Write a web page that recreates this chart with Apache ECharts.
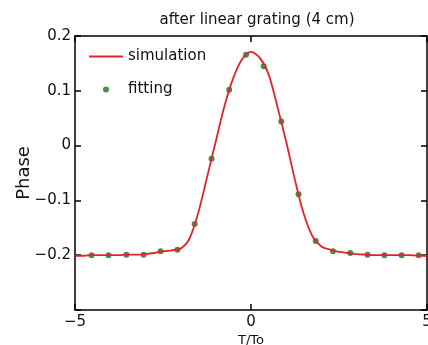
<!DOCTYPE html>
<html>
<head>
<meta charset="utf-8">
<script src="https://cdn.jsdelivr.net/npm/echarts@6/dist/echarts.min.js"></script>
<style>
  html, body { margin: 0; padding: 0; background: #fff; }
  #chart { width: 428px; height: 345px; }
</style>
</head>
<body>
<div id="chart"></div>
<script>
// simulated phase curve (T/To, phase)
const simX = [-5, -4.75, -4.5, -4.25, -4, -3.75, -3.5, -3.25, -3, -2.75, -2.5, -2.25, -2,
  -1.75, -1.5, -1.25, -1, -0.75, -0.5, -0.25, 0, 0.25, 0.5, 0.75, 1, 1.25, 1.5, 1.75,
  2, 2.25, 2.5, 2.75, 3, 3.25, 3.5, 3.75, 4, 4.25, 4.5, 4.75, 5];
const simY = [-0.201, -0.201, -0.200, -0.200, -0.200, -0.200, -0.199, -0.199, -0.198, -0.196, -0.193, -0.191, -0.188,
  -0.170, -0.123, -0.058, 0.008, 0.073, 0.124, 0.158, 0.171, 0.160, 0.130, 0.071, 0.007, -0.063, -0.125, -0.166,
  -0.184, -0.190, -0.194, -0.196, -0.198, -0.199, -0.200, -0.200, -0.200, -0.200, -0.200, -0.201, -0.201];

// fitted points
const fitX = [-4.53, -4.05, -3.54, -3.05, -2.57, -2.09, -1.6, -1.12, -0.62, -0.14,
  0.36, 0.86, 1.35, 1.84, 2.33, 2.82, 3.31, 3.79, 4.28, 4.76];
const fitY = [-0.200, -0.200, -0.199, -0.199, -0.193, -0.190, -0.143, -0.024, 0.102, 0.166,
  0.145, 0.044, -0.089, -0.174, -0.193, -0.196, -0.199, -0.200, -0.200, -0.200];

const FONT = 'DejaVu Sans';
const fmtNum = v => {
  const r = Math.round(v * 10) / 10;
  return (r < 0 ? '\u2212' : '') + String(Math.abs(r));
};

const frameLine = { onZero: false, lineStyle: { color: '#000', width: 1.5 } };
const frameTick = { inside: true, length: 6, lineStyle: { color: '#000', width: 1.5 } };

const chart = echarts.init(document.getElementById('chart'));

const option = {
  animation: false,
  backgroundColor: '#fff',
  title: {
    text: 'after linear grating (4 cm)',
    left: 252, top: 8, textAlign: 'center',
    textStyle: { fontFamily: FONT, fontSize: 15, fontWeight: 'normal', color: '#111' }
  },
  legend: {
    orient: 'vertical',
    left: 83, top: 44,
    itemWidth: 34, itemHeight: 6, itemGap: 18,
    textStyle: { fontFamily: FONT, fontSize: 15, color: '#111' },
    data: [
      { name: 'simulation', itemStyle: { opacity: 0 } },
      { name: 'fitting', icon: 'circle' }
    ]
  },
  grid: { left: 75, right: 1, top: 36, bottom: 35, outerBoundsMode: 'none', containLabel: false },
  xAxis: [{
    type: 'value', min: -5, max: 5, interval: 5,
    name: 'T/To', nameLocation: 'middle', nameGap: 24, nameMoveOverlap: false,
    nameTextStyle: { fontFamily: FONT, fontSize: 13, color: '#111' },
    axisLine: frameLine,
    axisTick: frameTick,
    axisLabel: { fontFamily: FONT, fontSize: 15, color: '#111', margin: 5, formatter: fmtNum },
    splitLine: { show: false }
  }, {
    type: 'value', position: 'top', min: -5, max: 5, interval: 5,
    axisLine: frameLine,
    axisTick: frameTick,
    axisLabel: { show: false },
    splitLine: { show: false }
  }],
  yAxis: [{
    type: 'value', min: -0.3, max: 0.2, interval: 0.1,
    name: 'Phase', nameLocation: 'middle', nameGap: 42, nameMoveOverlap: false,
    nameTextStyle: { fontFamily: FONT, fontSize: 18, color: '#111' },
    axisLine: frameLine,
    axisTick: frameTick,
    axisLabel: {
      fontFamily: FONT, fontSize: 15, color: '#111', margin: 4,
      formatter: v => (Math.abs(v + 0.3) < 1e-6 ? '' : fmtNum(v))
    },
    splitLine: { show: false }
  }, {
    type: 'value', position: 'right', min: -0.3, max: 0.2, interval: 0.1,
    axisLine: frameLine,
    axisTick: frameTick,
    axisLabel: { show: false },
    splitLine: { show: false }
  }],
  series: [{
    name: 'simulation',
    type: 'line',
    smooth: 0.3,
    symbol: 'none',
    data: simX.map((x, i) => [x, simY[i]]),
    lineStyle: { color: '#e3232c', width: 1.8 },
    itemStyle: { color: '#e3232c' }
  }, {
    name: 'fitting',
    type: 'scatter',
    symbol: 'circle',
    symbolSize: 6,
    data: fitX.map((x, i) => [x, fitY[i]]),
    itemStyle: { color: '#1c701c' }
  }]
};

chart.setOption(option);
</script>
</body>
</html>
